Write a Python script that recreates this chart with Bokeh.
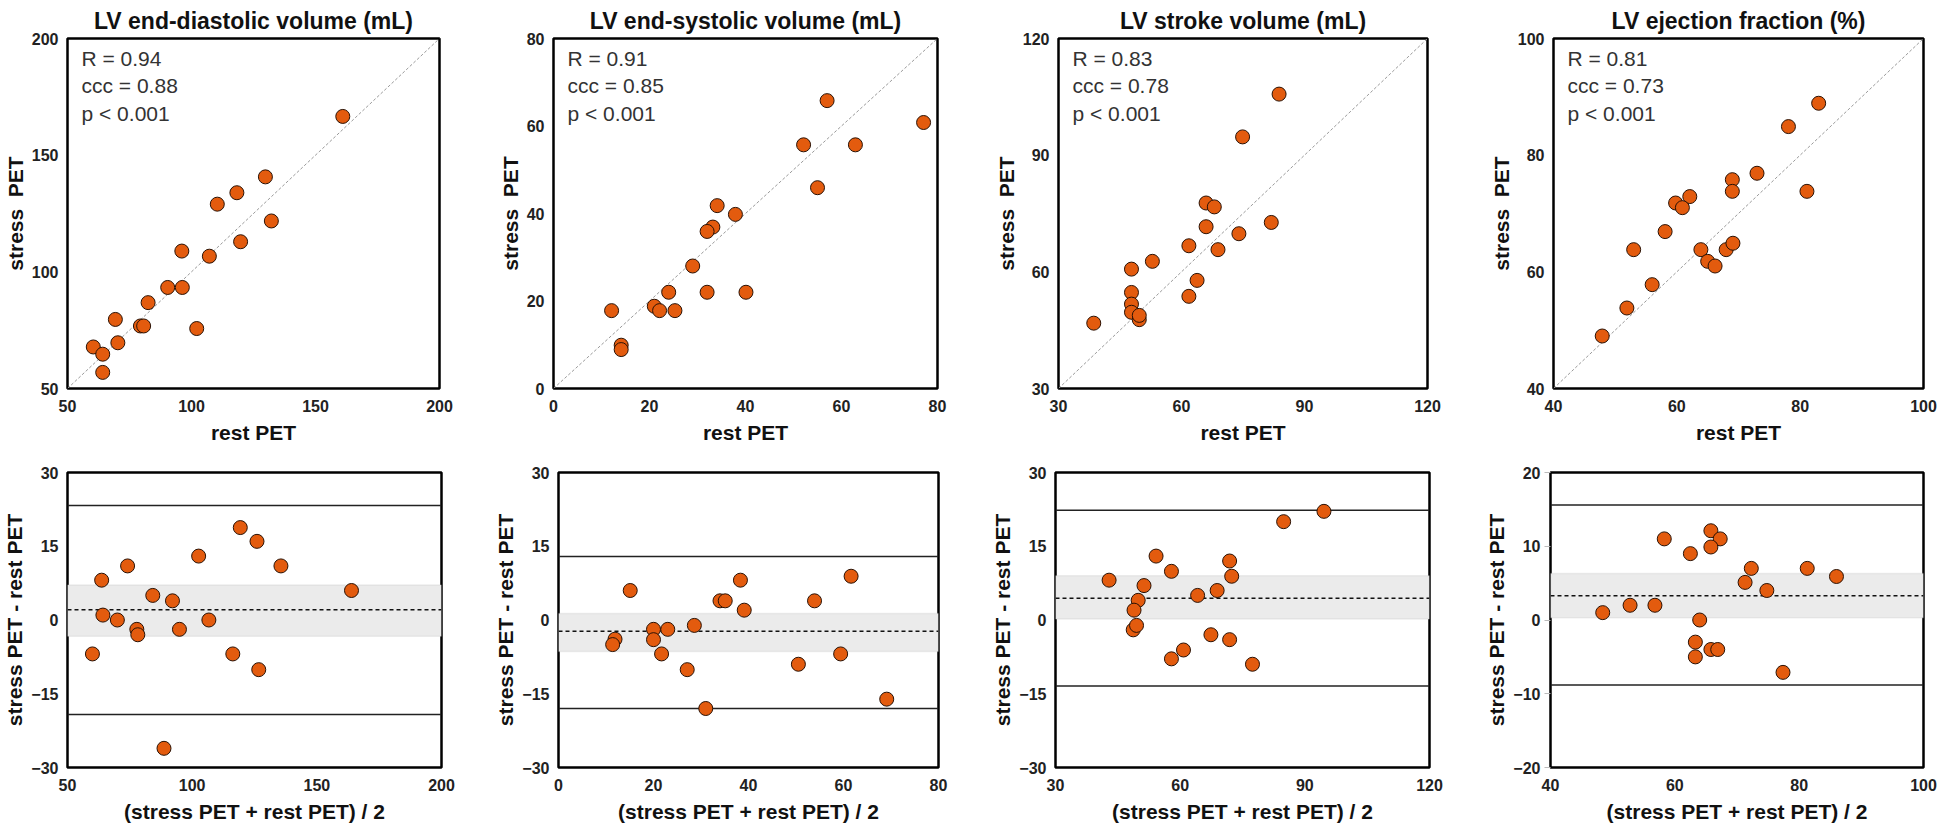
from bokeh.plotting import figure
from bokeh.models import Range1d, Label, Span, BoxAnnotation, FixedTicker
from bokeh.layouts import column, row
from bokeh.embed import file_html
from bokeh.resources import INLINE

FONT = "Liberation Sans"
DOT = "#E35B0E"

titles = ["LV end-diastolic volume (mL)", "LV end-systolic volume (mL)",
          "LV stroke volume (mL)", "LV ejection fraction (%)"]
stat_texts = ["R = 0.94\nccc = 0.88\np < 0.001",
              "R = 0.91\nccc = 0.85\np < 0.001",
              "R = 0.83\nccc = 0.78\np < 0.001",
              "R = 0.81\nccc = 0.73\np < 0.001"]

# ---- scatter (rest vs stress) ----
edv_rest = [161.0, 129.8, 118.3, 110.4, 132.2, 119.8, 96.1, 107.2, 90.4, 96.3, 82.5, 69.3, 79.4, 80.7, 102.1, 70.3, 60.4, 64.2, 64.2]
edv_stress = [166.6, 140.7, 133.9, 129.0, 121.8, 112.9, 108.9, 106.7, 93.3, 93.3, 86.8, 79.6, 76.8, 76.8, 75.7, 69.6, 67.8, 64.7, 56.9]
esv_rest = [57.0, 77.1, 52.1, 62.9, 55.0, 34.1, 37.9, 33.2, 32.0, 29.0, 24.0, 32.0, 40.1, 12.1, 21.0, 22.1, 25.3, 14.1, 14.1]
esv_stress = [65.8, 60.8, 55.7, 55.7, 45.9, 41.8, 39.8, 36.9, 35.9, 28.0, 22.0, 22.0, 22.0, 17.8, 18.8, 17.8, 17.8, 9.9, 8.9]
sv_rest = [83.8, 74.9, 66.0, 68.0, 81.9, 66.0, 74.0, 61.8, 68.9, 52.9, 47.8, 63.8, 61.8, 47.8, 47.8, 47.8, 49.7, 49.7, 38.6]
sv_stress = [105.7, 94.7, 77.7, 76.7, 72.7, 71.6, 69.8, 66.7, 65.7, 62.7, 60.7, 57.8, 53.7, 54.7, 51.7, 49.6, 47.7, 48.8, 46.8]
ef_rest = [83.0, 78.1, 73.0, 69.0, 69.0, 81.1, 62.1, 59.8, 60.9, 58.1, 53.0, 63.9, 68.0, 69.1, 65.0, 66.2, 56.0, 51.9, 47.9]
ef_stress = [88.9, 84.9, 76.9, 75.8, 73.8, 73.8, 72.9, 71.8, 71.0, 66.9, 63.8, 63.8, 63.8, 64.9, 61.8, 61.0, 57.8, 53.8, 49.0]

# ---- Bland-Altman (mean vs difference) ----
edv_mean = [60.0, 63.7, 64.2, 70.0, 74.1, 77.8, 78.2, 84.2, 92.1, 94.9, 102.6, 106.7, 116.3, 119.3, 126.0, 126.7, 135.6, 163.9, 88.7]
edv_diff = [-6.9, 8.1, 1.0, 0.0, 11.0, -1.9, -3.0, 5.0, 3.9, -1.9, 13.0, 0.0, -6.9, 18.8, 16.0, -10.1, 11.0, 6.0, -26.1]
esv_mean = [15.1, 11.9, 11.4, 20.0, 20.0, 23.0, 21.7, 27.1, 28.6, 31.0, 34.0, 35.1, 38.3, 39.1, 50.5, 53.9, 59.4, 61.6, 69.1]
esv_diff = [6.0, -3.9, -5.0, -1.9, -4.0, -1.9, -6.9, -10.1, -1.1, -18.0, 3.9, 3.9, 8.1, 2.0, -9.0, 3.9, -6.9, 8.9, -16.1]
sv_mean = [42.9, 49.9, 48.9, 51.3, 48.7, 49.5, 54.2, 57.9, 57.9, 60.8, 64.2, 67.4, 68.9, 71.9, 72.4, 71.9, 77.4, 84.9, 94.6]
sv_diff = [8.1, 4.0, 2.0, 7.0, -2.0, -1.1, 13.0, 9.9, -7.9, -6.1, 5.0, -3.0, 6.0, 12.0, 8.9, -4.0, -9.0, 20.0, 22.1]
ef_mean = [48.4, 52.8, 56.8, 58.3, 62.5, 65.8, 67.3, 65.8, 64.0, 63.3, 63.3, 65.8, 66.9, 71.3, 72.3, 74.8, 77.4, 81.3, 86.0]
ef_diff = [1.0, 2.0, 2.0, 11.0, 9.0, 12.1, 11.0, 9.9, 0.0, -3.0, -5.0, -4.0, -4.0, 5.1, 7.0, 4.0, -7.1, 7.0, 5.9]

# bias, CI of bias (low, high), limits of agreement (low, high)
bias = [2.1, -2.3, 4.4, 3.3]
ci_lo = [-3.3, -6.4, 0.2, 0.3]
ci_hi = [7.1, 1.3, 9.0, 6.3]
loa_lo = [-19.2, -18.0, -13.4, -8.8]
loa_hi = [23.3, 12.9, 22.3, 15.6]

# axis ranges and ticks
x_lims = [(50, 200), (0, 80), (30, 120), (40, 100)]
x_ticks = [[50, 100, 150, 200], [0, 20, 40, 60, 80], [30, 60, 90, 120], [40, 60, 80, 100]]
ba_y_lims = [(-30, 30), (-30, 30), (-30, 30), (-20, 20)]
ba_y_ticks = [[-30, -15, 0, 15, 30], [-30, -15, 0, 15, 30], [-30, -15, 0, 15, 30], [-20, -10, 0, 10, 20]]

rest_all = [edv_rest, esv_rest, sv_rest, ef_rest]
stress_all = [edv_stress, esv_stress, sv_stress, ef_stress]
mean_all = [edv_mean, esv_mean, sv_mean, ef_mean]
diff_all = [edv_diff, esv_diff, sv_diff, ef_diff]

# layout (pixels): (border_left, frame_width, border_right)
top_geom = [(60, 372, 50), (64, 384, 47), (74, 369, 50), (76, 370, 14)]
bot_geom = [(59, 374, 49), (68, 380, 47), (70, 374, 49), (72, 373, 15)]


def style(p):
    p.background_fill_color = "white"
    p.border_fill_color = "white"
    p.outline_line_color = "black"
    p.outline_line_width = 2.5
    p.xgrid.visible = False
    p.ygrid.visible = False
    for ax in (p.xaxis[0], p.yaxis[0]):
        ax.axis_line_color = None
        ax.major_tick_out = 0
        ax.major_tick_in = 0
        ax.minor_tick_out = 0
        ax.minor_tick_in = 0
        ax.major_label_text_font = FONT
        ax.major_label_text_font_style = "bold"
        ax.major_label_text_font_size = "16px"
        ax.major_label_text_color = "#222222"
        ax.axis_label_text_font = FONT
        ax.axis_label_text_font_style = "bold"
        ax.axis_label_text_font_size = "21px"
        ax.axis_label_text_color = "#111111"
    p.xaxis[0].major_label_standoff = 11
    p.yaxis[0].major_label_standoff = 9
    p.xaxis[0].axis_label_standoff = 6
    p.yaxis[0].axis_label_standoff = 2


def scatter_panel(i):
    lo, hi = x_lims[i]
    bl, fw, br = top_geom[i]
    p = figure(frame_width=fw, frame_height=350, min_border_left=bl, min_border_right=br,
               min_border_top=35, min_border_bottom=76,
               x_range=Range1d(lo, hi), y_range=Range1d(lo, hi),
               output_backend="svg", toolbar_location=None, title=titles[i])
    style(p)
    p.title.text_font = FONT
    p.title.text_font_size = "23px"
    p.title.text_font_style = "bold"
    p.title.text_color = "#111111"
    p.title.align = "center"
    p.xaxis[0].ticker = FixedTicker(ticks=x_ticks[i])
    p.yaxis[0].ticker = FixedTicker(ticks=x_ticks[i])
    p.xaxis[0].axis_label = "rest PET"
    p.yaxis[0].axis_label = "stress\u00a0 PET"
    p.line([lo, hi], [lo, hi], line_color="#9a9a9a", line_dash="3 2", line_width=1)
    p.scatter(rest_all[i], stress_all[i], size=14, fill_color=DOT, line_color="#2a1205", line_width=1)
    p.add_layout(Label(x=lo, y=hi, x_offset=14, y_offset=-8, text=stat_texts[i],
                       text_baseline="top", text_font=FONT, text_font_size="21px",
                       text_color="#333333"))
    return p


def ba_panel(i):
    lo, hi = x_lims[i]
    ylo, yhi = ba_y_lims[i]
    bl, fw, br = bot_geom[i]
    p = figure(frame_width=fw, frame_height=295, min_border_left=bl, min_border_right=br,
               min_border_top=8, min_border_bottom=58,
               x_range=Range1d(lo, hi), y_range=Range1d(ylo, yhi),
               output_backend="svg", toolbar_location=None)
    style(p)
    p.xaxis[0].ticker = FixedTicker(ticks=x_ticks[i])
    p.yaxis[0].ticker = FixedTicker(ticks=ba_y_ticks[i])
    if i == 3:
        p.yaxis[0].major_tick_out = 6
        p.yaxis[0].major_tick_line_color = "#bbbbbb"
        p.yaxis[0].major_label_standoff = 4
    p.xaxis[0].axis_label = "(stress PET + rest PET) / 2"
    p.yaxis[0].axis_label = "stress PET - rest PET"
    p.add_layout(BoxAnnotation(bottom=ci_lo[i], top=ci_hi[i], fill_color="#ebebeb", fill_alpha=1,
                               line_color="#c8c8c8", line_width=1.5, level="underlay"))
    p.add_layout(Span(location=bias[i], dimension="width", line_color="#111111",
                      line_dash="4 3", line_width=1.5, level="underlay"))
    p.add_layout(Span(location=loa_hi[i], dimension="width", line_color="#222222",
                      line_width=1.5, level="underlay"))
    p.add_layout(Span(location=loa_lo[i], dimension="width", line_color="#222222",
                      line_width=1.5, level="underlay"))
    p.scatter(mean_all[i], diff_all[i], size=14, fill_color=DOT, line_color="#2a1205", line_width=1)
    return p


top = row(*[scatter_panel(i) for i in range(4)])
bottom = row(*[ba_panel(i) for i in range(4)])
layout = column(top, bottom)

open("out.html", "w").write(file_html(layout, INLINE))
